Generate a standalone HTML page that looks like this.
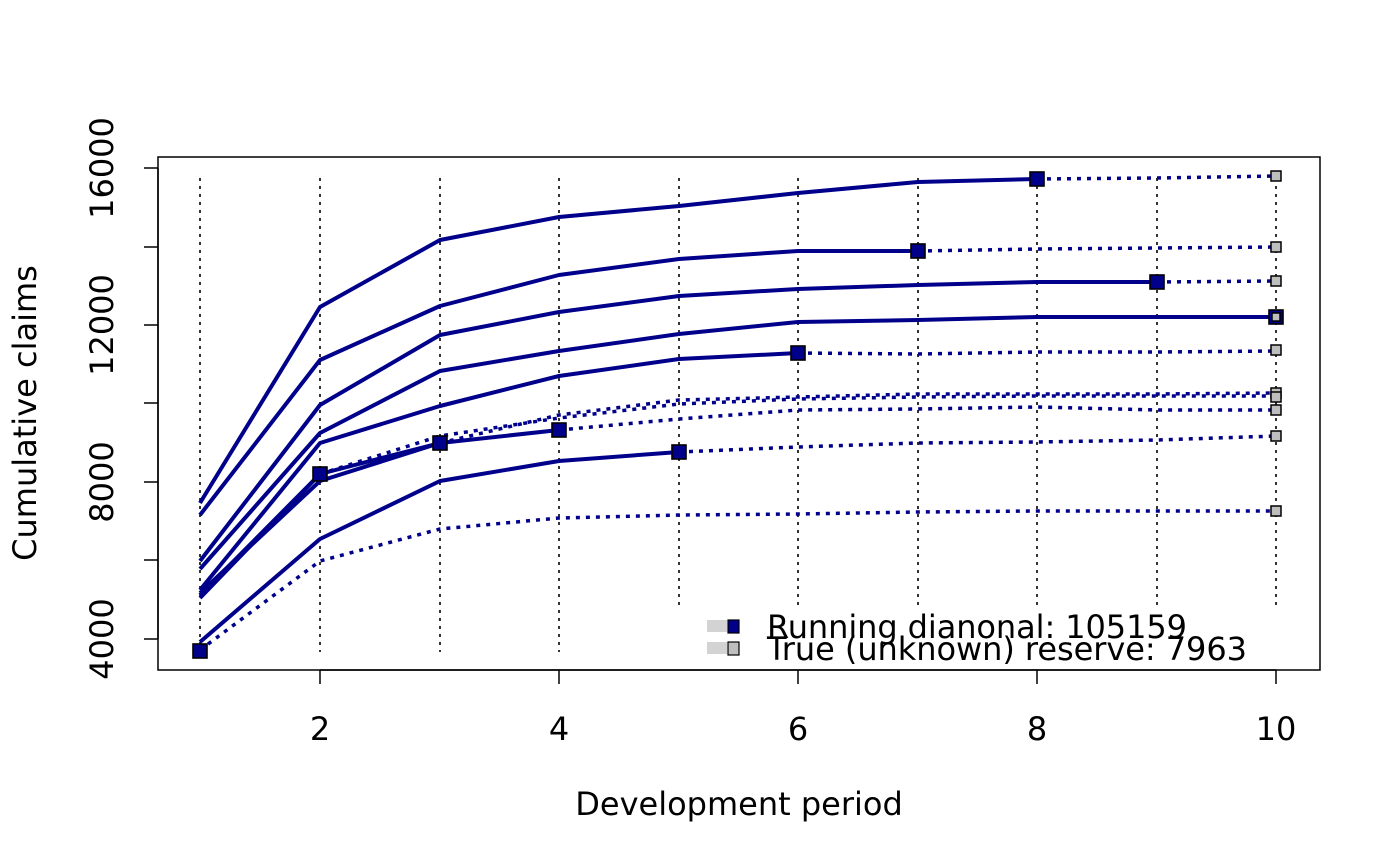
<!DOCTYPE html>
<html><head><meta charset="utf-8"><style>body{margin:0;background:#fff}svg{display:block}text{font-family:"DejaVu Sans","Liberation Sans",sans-serif;fill:#000}</style></head><body>
<svg width="1400" height="866" viewBox="0 0 1400 866" xmlns="http://www.w3.org/2000/svg">
<g stroke="#000" stroke-width="1.6" stroke-dasharray="3,5">
<line x1="200" y1="178" x2="200" y2="652"/><line x1="320" y1="178" x2="320" y2="652"/><line x1="440" y1="178" x2="440" y2="652"/><line x1="559" y1="178" x2="559" y2="652"/><line x1="679" y1="178" x2="679" y2="652"/><line x1="798" y1="178" x2="798" y2="652"/><line x1="918" y1="178" x2="918" y2="652"/><line x1="1037" y1="178" x2="1037" y2="652"/><line x1="1157" y1="178" x2="1157" y2="652"/><line x1="1276" y1="178" x2="1276" y2="652"/>
</g>
<g fill="none" stroke="#00008B" stroke-width="4" stroke-linejoin="round">
<polyline points="200,503 320,307 440,240 559,217 679,206 798,193 918,182 1037,179"/>
<polyline points="200,515 320,360 440,306 559,275 679,259 798,251 918,251"/>
<polyline points="200,561 320,405 440,335 559,312 679,296 798,289 918,285 1037,282 1157,282"/>
<polyline points="200,569 320,433 440,371 559,351 679,334 798,322 918,320 1037,317 1157,317 1276,317"/>
<polyline points="200,590 320,443 440,406 559,376 679,359 798,353"/>
<polyline points="200,593 320,481 440,443 559,430"/>
<polyline points="200,598 320,474 440,443"/>
<polyline points="200,595 320,474"/>
<polyline points="200,642 320,539 440,481 559,461 679,452"/>
</g>
<g fill="none" stroke="#00008B" stroke-width="3.5" stroke-dasharray="4,6">
<polyline points="1037,179 1157,178 1276,176"/>
<polyline points="918,251 1037,249 1157,248 1276,247"/>
<polyline points="1157,282 1276,281"/>
<polyline points="798,353 918,354 1037,352 1157,352 1276,351"/>
<polyline points="559,430 679,419 798,410 918,409 1037,407 1157,410 1276,410"/>
<polyline points="440,443 559,415 679,400 798,397 918,394 1037,394 1157,394 1276,393"/>
<polyline points="320,474 440,436 559,418 679,404 798,399 918,397 1037,396 1157,396 1276,396"/>
<polyline points="679,452 798,447 918,443 1037,442 1157,440 1276,436"/>
<polyline points="200,650 320,561 440,529 559,518 679,515 798,514 918,512 1037,511 1157,511 1276,511"/>
</g>
<g fill="#00008B" stroke="#000" stroke-width="1.6">
<rect x="1030" y="172" width="14" height="14"/><rect x="911" y="244" width="14" height="14"/><rect x="1150" y="275" width="14" height="14"/><rect x="791" y="346" width="14" height="14"/><rect x="552" y="423" width="14" height="14"/><rect x="433" y="436" width="14" height="14"/><rect x="313" y="467" width="14" height="14"/><rect x="672" y="445" width="14" height="14"/><rect x="193" y="644" width="14" height="14"/><rect x="1269" y="310" width="14" height="14"/>
</g>
<g fill="#bebebe" stroke="#000" stroke-width="1.5">
<rect x="1271" y="171" width="10" height="10"/><rect x="1271" y="242" width="10" height="10"/><rect x="1271" y="276" width="10" height="10"/><rect x="1272" y="313" width="8" height="8"/><rect x="1271" y="345" width="10" height="10"/><rect x="1271" y="388" width="10" height="10"/><rect x="1271" y="392" width="10" height="10"/><rect x="1271" y="405" width="10" height="10"/><rect x="1271" y="431" width="10" height="10"/><rect x="1271" y="506" width="10" height="10"/>
</g>
<rect x="676" y="605" width="644" height="65" fill="#fff"/>
<rect x="707" y="620" width="20" height="12" fill="#d3d3d3"/><rect x="707" y="642" width="20" height="12" fill="#d3d3d3"/>
<rect x="728" y="620" width="11" height="13" fill="#00008B" stroke="#000" stroke-width="1.2"/>
<rect x="728" y="642" width="11" height="13" fill="#bebebe" stroke="#000" stroke-width="1.2"/>
<text x="767" y="638" font-size="32" textLength="420">Running dianonal: 105159</text>
<text x="767" y="660" font-size="32" textLength="480">True (unknown) reserve: 7963</text>
<rect x="158" y="157" width="1162" height="513" fill="none" stroke="#000" stroke-width="1.5"/>
<g stroke="#000" stroke-width="1.5">
<line x1="320" y1="670" x2="1276" y2="670"/>
<line x1="320" y1="670" x2="320" y2="684"/><line x1="559" y1="670" x2="559" y2="684"/><line x1="798" y1="670" x2="798" y2="684"/><line x1="1037" y1="670" x2="1037" y2="684"/><line x1="1276" y1="670" x2="1276" y2="684"/>
<line x1="158" y1="168" x2="158" y2="639"/>
<line x1="144" y1="168" x2="158" y2="168"/><line x1="144" y1="247" x2="158" y2="247"/><line x1="144" y1="325" x2="158" y2="325"/><line x1="144" y1="403" x2="158" y2="403"/><line x1="144" y1="482" x2="158" y2="482"/><line x1="144" y1="560" x2="158" y2="560"/><line x1="144" y1="639" x2="158" y2="639"/>
</g>
<g font-size="32" text-anchor="middle">
<text x="320" y="740">2</text><text x="559" y="740">4</text><text x="798" y="740">6</text><text x="1037" y="740">8</text><text x="1276" y="740">10</text>
<text transform="translate(113,639) rotate(-90)">4000</text>
<text transform="translate(113,482) rotate(-90)">8000</text>
<text transform="translate(113,325) rotate(-90)">12000</text>
<text transform="translate(113,168) rotate(-90)">16000</text>
<text x="739" y="815">Development period</text>
<text transform="translate(36,413) rotate(-90)">Cumulative claims</text>
</g>
</svg>
</body></html>
